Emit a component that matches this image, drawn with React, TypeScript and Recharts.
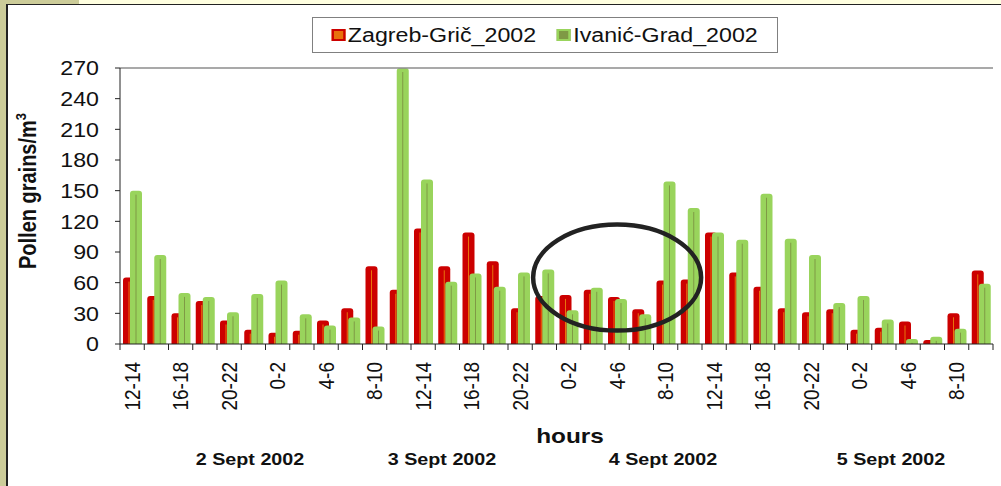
import React from 'react'
import {
  BarChart,
  Bar,
  XAxis,
  YAxis,
  Legend,
  ReferenceLine,
  ReferenceDot,
} from 'recharts'

// 2-hour slots, 2 Sept 12h -> 5 Sept 12h
const hourSlots = [
  '12-14', '14-16', '16-18', '18-20', '20-22', '22-24',
  '0-2', '2-4', '4-6', '6-8', '8-10', '10-12',
  '12-14', '14-16', '16-18', '18-20', '20-22', '22-24',
  '0-2', '2-4', '4-6', '6-8', '8-10', '10-12',
  '12-14', '14-16', '16-18', '18-20', '20-22', '22-24',
  '0-2', '2-4', '4-6', '6-8', '8-10', '10-12',
]

const zagrebGric = [
  65, 47, 30, 42, 23, 14, 11, 13, 23, 35, 76, 53,
  113, 76, 109, 81, 35, 47, 48, 53, 46, 34, 62, 63,
  109, 70, 56, 35, 31, 34, 14, 16, 22, 4, 30, 72,
]

const ivanicGrad = [
  150, 87, 50, 46, 31, 49, 62, 29, 18, 26, 17, 270,
  161, 61, 69, 56, 70, 73, 33, 55, 44, 29, 159, 133,
  109, 102, 147, 103, 87, 40, 47, 24, 5, 7, 15, 59,
]

const seriesNames = ['Zagreb-Grič_2002', 'Ivanić-Grad_2002']

const yTicks = [0, 30, 60, 90, 120, 150, 180, 210, 240, 270]

const dayLabels = [
  { text: '2 Sept 2002', cx: 250 },
  { text: '3 Sept 2002', cx: 442 },
  { text: '4 Sept 2002', cx: 663 },
  { text: '5 Sept 2002', cx: 891 },
]

const rows = hourSlots.map((label, i) => ({
  slot: i,
  label,
  zagreb: zagrebGric[i],
  ivanic: ivanicGrad[i],
}))

const FONT = '"Liberation Sans", Arial, sans-serif'
// the source picture is slightly stretched sideways
const SX = 1.16

const makeBarShape = (lineColor: string) => (props: any) => {
  const { x, y, width, height, fill } = props
  if (!height || height <= 0) return null
  const r = Math.min(3, width / 2, height)
  const d = `M${x},${y + height} L${x},${y + r} Q${x},${y} ${x + r},${y} L${x + width - r},${y} Q${x + width},${y} ${x + width},${y + r} L${x + width},${y + height} Z`
  const cx = x + width / 2
  return (
    <g>
      <path d={d} fill={fill} />
      {height > 5 && (
        <line x1={cx} x2={cx} y1={y + 4} y2={y + height} stroke={lineColor} strokeWidth={1} />
      )}
    </g>
  )
}

const RedBar = makeBarShape('#e8720c')
const GreenBar = makeBarShape('#7f9a45')

const HourTick = (props: any) => {
  const { x, y, payload, index } = props
  const half = payload?.offset || 12.125
  const row = rows[payload.value]
  return (
    <g>
      <line x1={x - half} x2={x - half} y1={y} y2={y + 6} stroke="#222" />
      {index === rows.length - 1 && (
        <line x1={x + half} x2={x + half} y1={y} y2={y + 6} stroke="#222" />
      )}
      {index % 2 === 0 && (
        <text
          x={0}
          y={0}
          transform={`translate(${x} ${y + 18}) scale(${SX} 1) rotate(-90)`}
          textAnchor="end"
          dy="0.35em"
          fontSize={19}
          fontFamily={FONT}
          fill="#111"
        >
          {row?.label}
        </text>
      )}
    </g>
  )
}

const ValueTick = (props: any) => {
  const { x, y, payload } = props
  return (
    <text
      x={0}
      y={0}
      transform={`translate(${x} ${y}) scale(${SX} 1)`}
      textAnchor="end"
      dy="0.36em"
      fontSize={20}
      fontFamily={FONT}
      fill="#111"
    >
      {payload.value}
    </text>
  )
}

const PollenLabel = () => (
  <text
    x={0}
    y={0}
    transform={`translate(36 191) scale(${SX} 1) rotate(-90)`}
    textAnchor="middle"
    fontSize={20}
    fontWeight="bold"
    fontFamily={FONT}
    fill="#111"
  >
    Pollen grains/m
    <tspan fontSize={13} dy={-9}>3</tspan>
  </text>
)

const Circled = (props: any) => (
  <ellipse
    cx={props.cx}
    cy={props.cy}
    rx={84}
    ry={53}
    fill="none"
    stroke="#222"
    strokeWidth={4.5}
  />
)

const LegendBox = ({ payload }: any) => {
  const items = [...(payload || [])].sort(
    (a: any, b: any) => seriesNames.indexOf(a.value) - seriesNames.indexOf(b.value)
  )
  return (
    <div
      style={{
        width: 464,
        height: 34,
        border: '1px solid #808080',
        background: '#fff',
        display: 'flex',
        alignItems: 'center',
        justifyContent: 'center',
        fontFamily: FONT,
        fontSize: 20,
        color: '#111',
      }}
    >
      <div style={{ display: 'flex', alignItems: 'center', gap: 18, transform: `scaleX(${SX})` }}>
        {items.map((p: any) => (
          <span key={p.value} style={{ display: 'flex', alignItems: 'center', gap: 2 }}>
            <span
              style={{
                display: 'inline-block',
                width: 8,
                height: 8,
                border: `2px solid ${p.color}`,
                background: p.color === '#cc0000' ? '#e8720c' : '#7f9a45',
              }}
            />
            {p.value}
          </span>
        ))}
      </div>
    </div>
  )
}

export default function App() {
  return (
    <div style={{ position: 'absolute', left: 0, top: 0, width: 1001, height: 486, background: '#fff', overflow: 'hidden' }}>
      <div style={{ position: 'absolute', left: 0, top: 0, width: 6, height: 486, background: '#cccc99' }} />
      <div style={{ position: 'absolute', left: 0, top: 0, width: 79, height: 4, background: '#cccc99' }} />
      <div style={{ position: 'absolute', left: 79, top: 0, width: 922, height: 4, background: '#ffffe0' }} />
      <div style={{ position: 'absolute', left: 6, top: 4, width: 995, height: 1, background: '#222' }} />
      <div style={{ position: 'absolute', left: 6, top: 4, width: 2, height: 482, background: '#222' }} />

      <div style={{ position: 'absolute', left: 0, top: 0 }}>
        <BarChart
          width={1001}
          height={486}
          data={rows}
          margin={{ top: 68, right: 8, bottom: 0, left: 0 }}
          barSize={12}
          barGap={-5}
        >
          <XAxis
            dataKey="slot"
            type="category"
            interval={0}
            height={142}
            tickLine={false}
            tickSize={0}
            tickMargin={0}
            axisLine={{ stroke: '#222' }}
            tick={<HourTick />}
          />
          <YAxis
            yAxisId="l"
            width={120}
            domain={[0, 270]}
            ticks={yTicks}
            interval={0}
            tickSize={5}
            tickMargin={16}
            axisLine={{ stroke: '#222' }}
            tickLine={{ stroke: '#222' }}
            tick={<ValueTick />}
            label={<PollenLabel />}
          />
          <YAxis
            yAxisId="r"
            orientation="right"
            width={0}
            tick={false}
            tickLine={false}
            axisLine={{ stroke: '#8c8c8c', strokeWidth: 1.5 }}
          />
          <ReferenceLine yAxisId="l" y={270} stroke="#8c8c8c" strokeWidth={1.5} />
          <Legend
            layout="vertical"
            align="center"
            verticalAlign="middle"
            wrapperStyle={{ left: 312, top: 17, width: 466, height: 36 }}
            content={<LegendBox />}
          />
          <Bar
            yAxisId="l"
            dataKey="zagreb"
            name={seriesNames[0]}
            fill="#cc0000"
            shape={RedBar}
            isAnimationActive={false}
          />
          <Bar
            yAxisId="l"
            dataKey="ivanic"
            name={seriesNames[1]}
            fill="#99d45c"
            shape={GreenBar}
            isAnimationActive={false}
          />
          <ReferenceDot
            yAxisId="l"
            x={20}
            y={65}
            r={0}
            ifOverflow="visible"
            shape={Circled}
          />
        </BarChart>
      </div>

      <div
        style={{
          position: 'absolute',
          left: 520,
          width: 100,
          top: 424,
          textAlign: 'center',
          fontFamily: FONT,
          fontWeight: 'bold',
          fontSize: 21,
          color: '#111',
          transform: `scaleX(${SX})`,
        }}
      >
        hours
      </div>
      {dayLabels.map((d) => (
        <div
          key={d.text}
          style={{
            position: 'absolute',
            left: d.cx - 80,
            width: 160,
            top: 450,
            textAlign: 'center',
            fontFamily: FONT,
            fontWeight: 'bold',
            fontSize: 17,
            color: '#111',
            transform: `scaleX(${SX})`,
          }}
        >
          {d.text}
        </div>
      ))}
    </div>
  )
}
